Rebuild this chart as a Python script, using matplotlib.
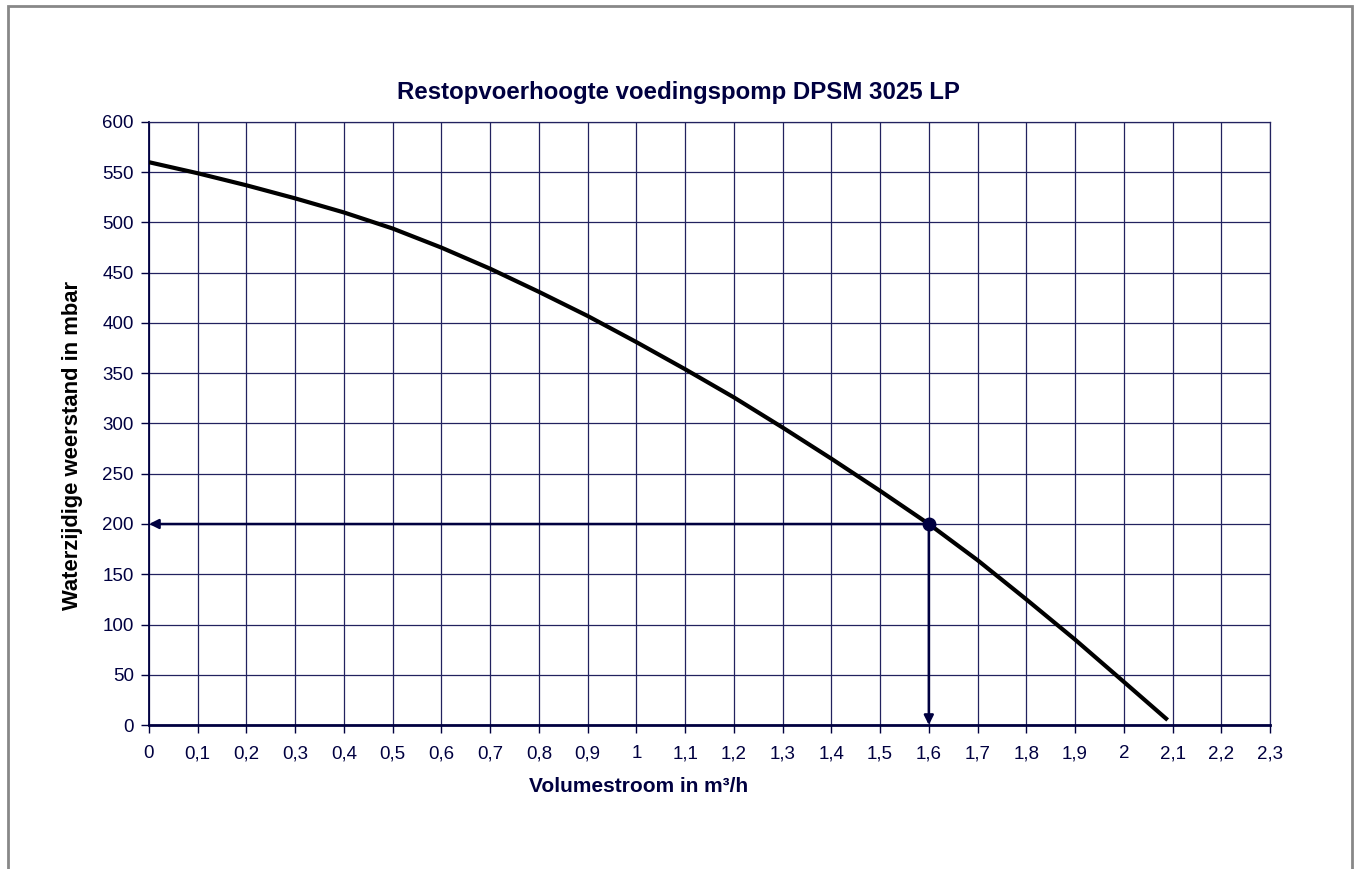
import matplotlib.pyplot as plt
import matplotlib.patches as patches
import numpy as np

# pompcurve
flow = [0.0, 0.1, 0.2, 0.3, 0.4, 0.5, 0.6, 0.7, 0.8, 0.9, 1.0,
        1.1, 1.2, 1.3, 1.4, 1.5, 1.6, 1.7, 1.8, 1.9, 2.0, 2.09]
head = [560, 549, 537, 524, 510, 494, 475, 454, 431, 407, 381,
        354, 326, 296, 265, 233, 200, 164, 125, 85, 43, 5]

work_flow = 1.6
work_head = 200

x_ticks = np.round(np.arange(0, 2.31, 0.1), 1)
y_ticks = np.arange(0, 601, 50)

navy = '#000040'
grid_c = '#22225f'

plt.rcParams['font.family'] = ['Liberation Sans', 'DejaVu Sans']

fig = plt.figure(figsize=(13.59, 8.69), dpi=100)
ax = fig.add_axes([149 / 1359, 1 - 725 / 869, (1270 - 149) / 1359, (725 - 122) / 869])

# rand om de figuur
fig.patches.append(patches.Rectangle((8 / 1359, -0.02), (1352 - 8) / 1359, 1.02 - 6 / 869,
                                     transform=fig.transFigure, fill=False,
                                     edgecolor='#888888', linewidth=2))

ax.set_xlim(0, 2.3)
ax.set_ylim(0, 600)
ax.set_xticks(x_ticks)
ax.set_yticks(y_ticks)
ax.set_xticklabels([('%g' % v).replace('.', ',') for v in x_ticks])
ax.set_yticklabels([str(v) for v in y_ticks])
ax.grid(True, color=grid_c, linewidth=0.9)
ax.set_axisbelow(True)

for s in ['top', 'right', 'left']:
    ax.spines[s].set_color(grid_c)
    ax.spines[s].set_linewidth(0.9)
ax.spines['left'].set_color(navy)
ax.spines['left'].set_linewidth(1.3)
ax.spines['bottom'].set_color(navy)
ax.spines['bottom'].set_linewidth(2)
ax.tick_params(colors=navy, labelsize=13.5, length=6, width=1, pad=5)
for lbl in ax.get_xticklabels():
    lbl.set_verticalalignment('baseline')
ax.tick_params(axis='x', pad=18)

ax.plot(flow, head, color='black', linewidth=3, solid_capstyle='butt',
        solid_joinstyle='round', zorder=3)

# werkpunt met pijlen
ax.annotate('', xy=(0, work_head), xytext=(work_flow, work_head),
            arrowprops=dict(arrowstyle='-|>', color=navy, lw=1.8,
                            mutation_scale=14, shrinkA=0, shrinkB=0), zorder=4)
ax.annotate('', xy=(work_flow, 0), xytext=(work_flow, work_head),
            arrowprops=dict(arrowstyle='-|>', color=navy, lw=1.8,
                            mutation_scale=14, shrinkA=0, shrinkB=0), zorder=4)
ax.plot([work_flow], [work_head], 'o', color=navy, markersize=9, zorder=5)

fig.text(678 / 1359, 1 - 93 / 869, 'Restopvoerhoogte voedingspomp DPSM 3025 LP',
         ha='center', va='center', fontsize=17.3, fontweight='bold', color=navy)
fig.text(639 / 1359, 1 - 787 / 869, 'Volumestroom in m³/h',
         ha='center', va='center', fontsize=15, fontweight='bold', color=navy)
fig.text(73 / 1359, 1 - 445 / 869, 'Waterzijdige weerstand in mbar',
         ha='center', va='center', rotation=90, fontsize=15.8, fontweight='bold', color='black')

plt.savefig('out.png', dpi=100)
